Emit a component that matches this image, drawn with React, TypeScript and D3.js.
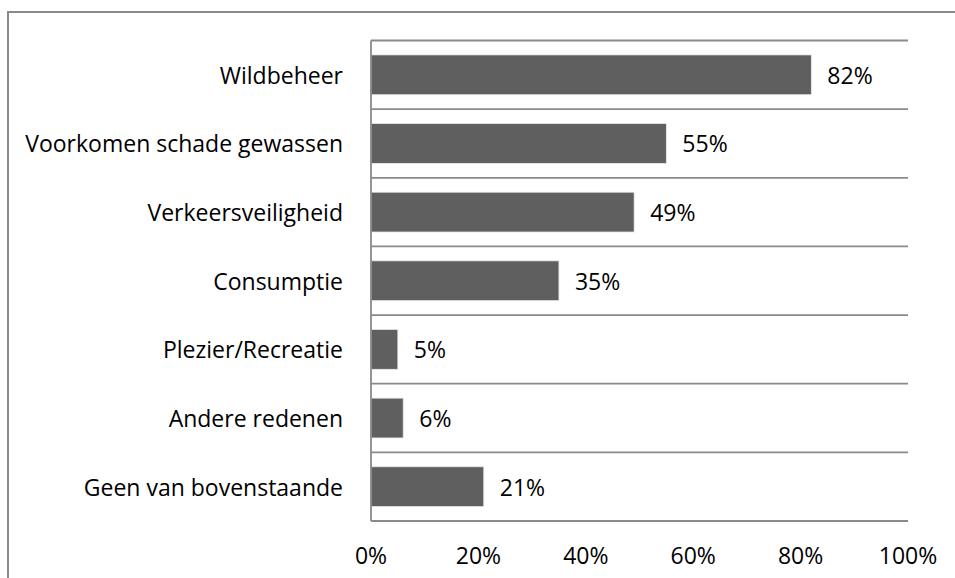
import React from "react";
import * as d3 from "d3";

const categories = [
  "Wildbeheer",
  "Voorkomen schade gewassen",
  "Verkeersveiligheid",
  "Consumptie",
  "Plezier/Recreatie",
  "Andere redenen",
  "Geen van bovenstaande",
];
const values = [82, 55, 49, 35, 5, 6, 21];
const xTicks = [0, 20, 40, 60, 80, 100];

const W = 955;
const H = 578;
const FONT = "'Open Sans', Lato, sans-serif";
const FS = 23;

export default function App() {
  const x = d3.scaleLinear().domain([0, 100]).range([371, 908]);
  const y = d3
    .scaleBand<string>()
    .domain(categories)
    .range([40.5, 521])
    .paddingInner(0.42)
    .paddingOuter(0.21);
  const step = y.step();
  const half = (y.paddingInner() * step) / 2;
  const boundaries = categories.map((c) => (y(c) as number) - half);
  boundaries.push(521);

  return (
    <svg
      width={W}
      height={H}
      style={{ position: "fixed", left: 0, top: 0, background: "#fff" }}
      fontFamily={FONT}
    >
      <rect x={0} y={0} width={W} height={H} fill="#fff" />
      {/* outer frame */}
      <path d={`M8,${H + 5} V12 H${W + 5}`} fill="none" stroke="#8a8a8a" strokeWidth={2} />
      {/* gridlines */}
      {boundaries.map((b, i) => (
        <line key={i} x1={x(0)} x2={x(100)} y1={b} y2={b} stroke="#8a8a8a" strokeWidth={1.8} />
      ))}
      {/* bars */}
      {categories.map((c, i) => (
        <rect
          key={c}
          x={x(0)}
          y={y(c)}
          width={x(values[i]) - x(0)}
          height={y.bandwidth()}
          fill="#5f5f5f"
          stroke="#e8e8e8"
          strokeWidth={0.8}
        />
      ))}
      {/* y axis line */}
      <line x1={x(0)} x2={x(0)} y1={40.5} y2={521} stroke="#8a8a8a" strokeWidth={1.8} />
      {/* category labels */}
      {categories.map((c) => (
        <text
          key={c}
          x={343}
          y={(y(c) as number) + y.bandwidth() / 2}
          textAnchor="end"
          dominantBaseline="central"
          fontSize={FS}
          fill="#000"
        >
          {c}
        </text>
      ))}
      {/* value labels */}
      {categories.map((c, i) => (
        <text
          key={c}
          x={x(values[i]) + 16}
          y={(y(c) as number) + y.bandwidth() / 2}
          dominantBaseline="central"
          fontSize={FS}
          fill="#000"
        >
          {values[i]}%
        </text>
      ))}
      {/* x tick labels */}
      {xTicks.map((t) => (
        <text
          key={t}
          x={x(t)}
          y={555}
          textAnchor="middle"
          dominantBaseline="central"
          fontSize={FS}
          fill="#000"
        >
          {t}%
        </text>
      ))}
    </svg>
  );
}
